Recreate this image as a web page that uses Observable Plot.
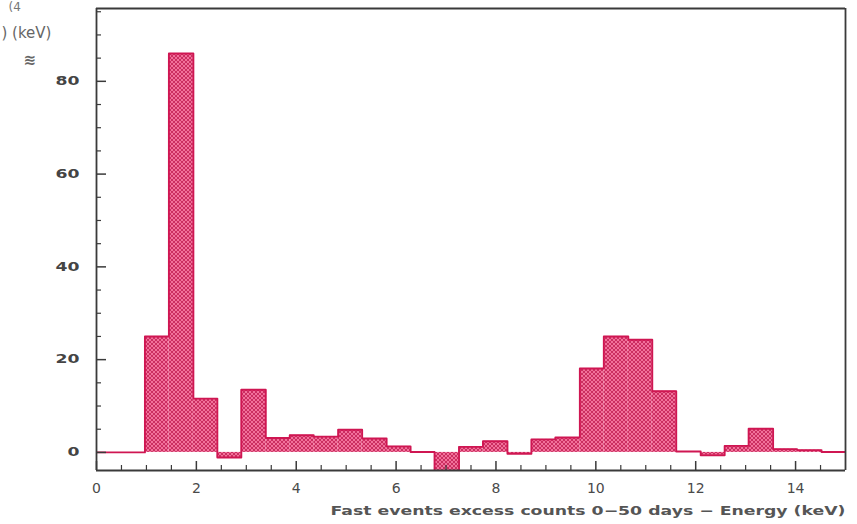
<!DOCTYPE html>
<html>
<head>
<meta charset="utf-8">
<script src="https://cdn.jsdelivr.net/npm/d3@7"></script>
<script src="https://cdn.jsdelivr.net/npm/@observablehq/plot@0.6"></script>
<style>
  html, body { margin: 0; padding: 0; background: #fff; }
  #chart { width: 857px; height: 524px; overflow: hidden; }
</style>
</head>
<body>
<div id="chart"></div>
<script>
// Histogram bin edges (keV) and excess counts per bin
const binEdges = [0, 0.48, 0.97, 1.45, 1.94, 2.42, 2.90, 3.39, 3.87, 4.35, 4.84, 5.32, 5.81, 6.29, 6.77, 7.26,
                  7.74, 8.23, 8.71, 9.19, 9.68, 10.16, 10.65, 11.13, 11.61, 12.10, 12.58, 13.06, 13.55, 14.03, 14.52, 15.0];
const counts = [0, 0, 25, 86, 11.6, -1.1, 13.5, 3.1, 3.7, 3.4, 4.9, 3.0, 1.3, 0.1, -4, 1.2,
                2.4, -0.3, 2.8, 3.2, 18.1, 25, 24.3, 13.2, 0.2, -0.6, 1.4, 5.1, 0.7, 0.5, 0.1];

// Tick positions and labels
const xMajorTicks = [0, 2, 4, 6, 8, 10, 12, 14];
const xMinorTicks = [0.5, 1, 1.5, 2.5, 3, 3.5, 4.5, 5, 5.5, 6.5, 7, 7.5, 8.5, 9, 9.5, 10.5, 11, 11.5, 12.5, 13, 13.5, 14.5];
const yMajorTicks = [0, 20, 40, 60, 80];
const yMinorTicks = [5, 10, 15, 25, 30, 35, 45, 50, 55, 65, 70, 75, 85, 90, 95];

const xTitle = "Fast events excess counts 0\u221250 days \u2212 Energy (keV)";
const cornerA = "(4";
const cornerB = ") (keV)";
const cornerC = "\u224B";

const xDomain = [0, 15];
const yDomain = [-3.9, 95.7];
const W = 857, H = 524, mL = 96, mR = 12, mT = 8, mB = 54;
// tick lengths in data units (converted from pixels)
const kx = (xDomain[1] - xDomain[0]) / (W - mL - mR);
const ky = (yDomain[1] - yDomain[0]) / (H - mT - mB);

const bins = counts.map((c, i) => ({x1: binEdges[i], x2: binEdges[i + 1], y: c}));
const outline = bins.map(b => ({x: b.x1, y: b.y})).concat([{x: binEdges[binEdges.length - 1], y: counts[counts.length - 1]}]);

const font = "'DejaVu Sans', Verdana, sans-serif";

const chart = Plot.plot({
  width: W,
  height: H,
  marginLeft: mL,
  marginRight: mR,
  marginTop: mT,
  marginBottom: mB,
  x: {domain: xDomain, axis: null},
  y: {domain: yDomain, axis: null},
  style: {fontFamily: font, background: "#fff", color: "#3a3a3a", overflow: "visible"},
  marks: [
    Plot.rectY(bins, {x1: "x1", x2: "x2", y1: 0, y2: "y", fill: "url(#hatch)", clip: true}),
    Plot.line(outline, {x: "x", y: "y", curve: "step-after", stroke: "#cf1652", strokeWidth: 1.9, clip: true}),
    // inward ticks
    Plot.ruleX(xMinorTicks, {x: d => d, y1: yDomain[0], y2: yDomain[0] + 5 * ky, stroke: "#3a3a3a", strokeWidth: 1.2}),
    Plot.ruleX(xMajorTicks, {x: d => d, y1: yDomain[0], y2: yDomain[0] + 9 * ky, stroke: "#3a3a3a", strokeWidth: 1.5}),
    Plot.ruleY(yMinorTicks, {y: d => d, x1: xDomain[0], x2: xDomain[0] + 5 * kx, stroke: "#3a3a3a", strokeWidth: 1.2}),
    Plot.ruleY(yMajorTicks, {y: d => d, x1: xDomain[0], x2: xDomain[0] + 10 * kx, stroke: "#3a3a3a", strokeWidth: 1.5}),
    // frame
    Plot.ruleX(xDomain, {x: d => d, y1: yDomain[0], y2: yDomain[1], stroke: "#3a3a3a", strokeWidth: 1.8}),
    Plot.ruleY(yDomain, {y: d => d, x1: xDomain[0], x2: xDomain[1], stroke: "#3a3a3a", strokeWidth: 1.8}),
    // tick labels
    Plot.text(xMajorTicks, {x: d => d, y: yDomain[0], text: d => String(d), dy: 18, fontSize: 14, fill: "#4a4a4a", lineAnchor: "middle"}),
    Plot.text(yMajorTicks, {x: xDomain[0], y: d => d, text: d => String(d), dx: -17, textAnchor: "end", fontSize: 12, fontWeight: "bold", fill: "#444"}),
    // titles
    Plot.text([xTitle], {frameAnchor: "bottom-right", dy: 44, textAnchor: "end", fontSize: 12, fontWeight: "bold", fill: "#555"}),
    Plot.text([cornerA], {frameAnchor: "top-left", dx: -88, dy: -6, textAnchor: "start", fontSize: 12, fill: "#777"}),
    Plot.text([cornerB], {frameAnchor: "top-left", dx: -95, dy: 19, textAnchor: "start", fontSize: 15, fill: "#666"}),
    Plot.text([cornerC], {frameAnchor: "top-left", dx: -73, dy: 46, textAnchor: "start", fontSize: 15, fontWeight: "bold", fill: "#666"})
  ]
});

// hatch pattern for the filled histogram
const svg = d3.select(chart);
const defs = svg.insert("defs", ":first-child");
const pat = defs.append("pattern").attr("id", "hatch").attr("patternUnits", "userSpaceOnUse")
  .attr("width", 4).attr("height", 4);
pat.append("rect").attr("width", 4).attr("height", 4).attr("fill", "#f2719b");
pat.append("path").attr("d", "M0,0L4,4M4,0L0,4").attr("stroke", "#bd1a4e").attr("stroke-width", 0.75);

// stretch texts to the wide lettering of the picture
svg.selectAll("text").each(function() {
  const t = this.textContent;
  const g = this.closest("g");
  const anchor = this.getAttribute("text-anchor") || (g && g.getAttribute("text-anchor"));
  if (t === xTitle) {
    d3.select(this).attr("textLength", 515).attr("lengthAdjust", "spacingAndGlyphs");
  } else if (yMajorTicks.map(String).includes(t) && anchor === "end") {
    d3.select(this).attr("textLength", 12 * t.length).attr("lengthAdjust", "spacingAndGlyphs");
  }
});

document.getElementById("chart").appendChild(chart);
</script>
</body>
</html>
